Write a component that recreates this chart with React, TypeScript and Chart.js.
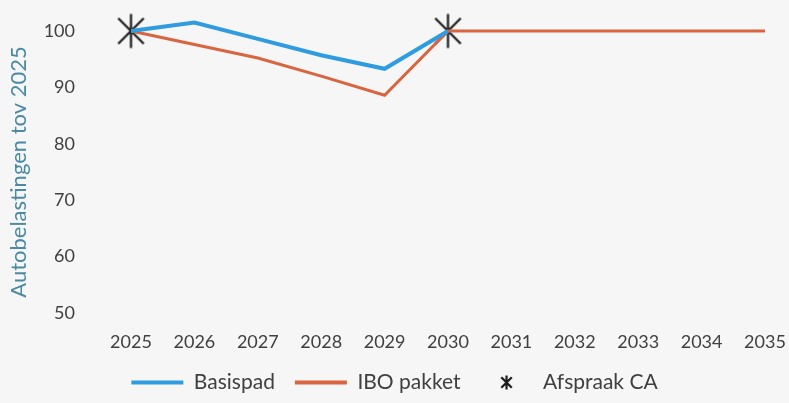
import React, { useEffect, useRef } from "react";
import { Chart, registerables } from "chart.js";

Chart.register(...registerables);

const years = ["2025", "2026", "2027", "2028", "2029", "2030", "2031", "2032", "2033", "2034", "2035"];
const basispad = [100, 101.5, 98.6, 95.7, 93.3, 100, null, null, null, null, null];
const iboPakket = [100, 97.6, 95.2, 92.0, 88.6, 100, 100, 100, 100, 100, 100];
const afspraakCA = [100, null, null, null, null, 100, null, null, null, null, null];
const yMin = 50;
const yMax = 100;
const yStep = 10;

const FONT = "Lato, 'Open Sans', sans-serif";

function makeStar(r: number, lw: number): HTMLCanvasElement {
  const size = Math.ceil(r * 2 + lw * 2);
  const c = document.createElement("canvas");
  c.width = size;
  c.height = size;
  const ctx = c.getContext("2d")!;
  const cx = size / 2;
  const cy = size / 2;
  ctx.strokeStyle = "#1a1a1a";
  ctx.lineWidth = lw;
  ctx.beginPath();
  ctx.moveTo(cx, cy - r);
  ctx.lineTo(cx, cy + r);
  const d = r * 0.75;
  ctx.moveTo(cx - d, cy - d);
  ctx.lineTo(cx + d, cy + d);
  ctx.moveTo(cx + d, cy - d);
  ctx.lineTo(cx - d, cy + d);
  ctx.stroke();
  return c;
}

export default function App() {
  const ref = useRef<HTMLCanvasElement | null>(null);

  useEffect(() => {
    document.body.style.margin = "0";
    const bigStar = makeStar(17, 2.2);
    const smallStar = makeStar(7, 2.2);
    const chart = new Chart(ref.current!, {
      type: "line",
      data: {
        labels: years,
        datasets: [
          { label: "Basispad", data: basispad, borderColor: "#2f9be0", backgroundColor: "#2f9be0", borderWidth: 4, pointRadius: 0 },
          { label: "IBO pakket", data: iboPakket, borderColor: "#d9643f", backgroundColor: "#d9643f", borderWidth: 3, pointRadius: 0 },
          { label: "Afspraak CA", data: afspraakCA, showLine: false, borderColor: "#1a1a1a", backgroundColor: "#1a1a1a", pointStyle: bigStar as any, pointRadius: 17 },
        ],
      },
      options: {
        animation: false,
        responsive: false,
        maintainAspectRatio: false,
        clip: false as any,
        layout: { autoPadding: false, padding: { top: 31, right: 24, left: 24, bottom: 0 } },
        plugins: {
          tooltip: { enabled: false },
          legend: {
            position: "bottom",
            labels: {
              usePointStyle: true,
              pointStyleWidth: 52,
              padding: 20,
              color: "#404040",
              font: { family: FONT, size: 21 },
              generateLabels: (ch: any) => {
                const items = Chart.defaults.plugins.legend.labels.generateLabels(ch);
                return items.map((it: any, i: number) =>
                  i === 2 ? { ...it, pointStyle: smallStar, lineWidth: 0 } : { ...it, pointStyle: "line", lineWidth: 4 }
                );
              },
            },
          },
        },
        scales: {
          x: {
            offset: false,
            grid: { display: false, drawTicks: false },
            border: { display: false },
            ticks: { color: "#404040", font: { family: FONT, size: 18 }, padding: 18, maxRotation: 0, autoSkip: false },
            afterFit: (s: any) => {
              s.height = 39;
              s.paddingLeft = 0;
              s.paddingRight = 0;
            },
          },
          y: {
            min: yMin,
            max: yMax,
            grid: { display: false, drawTicks: false },
            border: { display: false },
            ticks: { stepSize: yStep, color: "#404040", font: { family: FONT, size: 18 }, padding: 56 },
            title: { display: true, text: "Autobelastingen tov 2025", color: "#4a8aa3", font: { family: FONT, size: 22 }, padding: { top: -18, bottom: 0 } },
            afterFit: (s: any) => {
              s.width = 107;
              s.paddingTop = 0;
              s.paddingBottom = 0;
            },
          },
        },
      },
    });
    return () => chart.destroy();
  }, []);

  return (
    <div style={{ position: "fixed", left: 0, top: 0, width: 789, height: 403, background: "#f6f6f6" }}>
      <canvas ref={ref} width={789} height={403} style={{ display: "block", width: 789, height: 403 }} />
    </div>
  );
}
